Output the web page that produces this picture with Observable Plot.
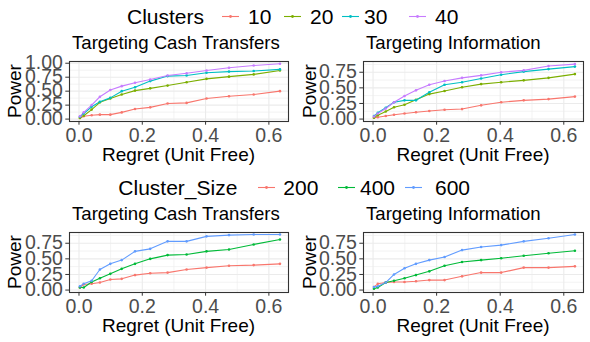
<!DOCTYPE html>
<html><head><meta charset="utf-8">
<script src="https://cdn.jsdelivr.net/npm/d3@7"></script>
<script src="https://cdn.jsdelivr.net/npm/@observablehq/plot@0.6"></script>
<style>
body{margin:0;background:#fff;font-family:"Liberation Sans",Arial,sans-serif;}
#root{position:relative;width:590px;height:342px;overflow:hidden;background:#fff;}
.abs{position:absolute;white-space:nowrap;line-height:1;color:#000;font-weight:normal;}
</style></head><body><div id="root"></div>
<script>
// ---- data ----
const regret = [0.003, 0.015, 0.04, 0.066, 0.099, 0.135, 0.177, 0.225, 0.28, 0.34, 0.403, 0.474, 0.552, 0.635];

const clusterLevels = ["10", "20", "30", "40"];
const clusterColors = ["#F8766D", "#7CAE00", "#00BFC4", "#C77CFF"];
const sizeLevels = ["200", "400", "600"];
const sizeColors = ["#F8766D", "#00BA38", "#619CFF"];

// Targeting Cash Transfers, by number of clusters
const cashC10 = [0.02, 0.05, 0.07, 0.08, 0.08, 0.12, 0.18, 0.21, 0.28, 0.29, 0.37, 0.41, 0.44, 0.50];
const cashC20 = [0.02, 0.06, 0.17, 0.30, 0.37, 0.44, 0.51, 0.55, 0.60, 0.66, 0.72, 0.76, 0.80, 0.87];
const cashC30 = [0.04, 0.10, 0.22, 0.31, 0.38, 0.50, 0.57, 0.68, 0.77, 0.78, 0.83, 0.85, 0.86, 0.89];
const cashC40 = [0.05, 0.12, 0.25, 0.40, 0.52, 0.59, 0.65, 0.71, 0.78, 0.82, 0.87, 0.92, 0.96, 0.99];
// Targeting Information, by number of clusters
const infoC10 = [0.02, 0.03, 0.05, 0.07, 0.09, 0.11, 0.13, 0.15, 0.16, 0.22, 0.27, 0.30, 0.32, 0.36];
const infoC20 = [0.02, 0.06, 0.12, 0.19, 0.23, 0.31, 0.40, 0.45, 0.51, 0.56, 0.59, 0.62, 0.66, 0.72];
const infoC30 = [0.05, 0.10, 0.18, 0.27, 0.30, 0.30, 0.43, 0.55, 0.59, 0.65, 0.71, 0.76, 0.80, 0.84];
const infoC40 = [0.04, 0.09, 0.17, 0.27, 0.37, 0.46, 0.55, 0.61, 0.66, 0.70, 0.75, 0.78, 0.85, 0.88];
// Targeting Cash Transfers, by cluster size
const cashS200 = [0.04, 0.09, 0.10, 0.12, 0.17, 0.18, 0.24, 0.27, 0.28, 0.33, 0.36, 0.39, 0.40, 0.42];
const cashS400 = [0.04, 0.04, 0.13, 0.19, 0.26, 0.34, 0.42, 0.50, 0.56, 0.57, 0.62, 0.65, 0.73, 0.81];
const cashS600 = [0.06, 0.10, 0.15, 0.33, 0.42, 0.48, 0.62, 0.66, 0.78, 0.78, 0.86, 0.88, 0.89, 0.89];
// Targeting Information, by cluster size
const infoS200 = [0.05, 0.10, 0.12, 0.13, 0.13, 0.14, 0.16, 0.16, 0.22, 0.28, 0.28, 0.36, 0.36, 0.38];
const infoS400 = [0.02, 0.04, 0.12, 0.15, 0.19, 0.24, 0.30, 0.39, 0.45, 0.48, 0.51, 0.55, 0.59, 0.63];
const infoS600 = [0.05, 0.06, 0.12, 0.25, 0.35, 0.42, 0.48, 0.53, 0.64, 0.69, 0.72, 0.78, 0.83, 0.89];

const xTicks = [0, 0.2, 0.4, 0.6];
const yTicksTall = [0, 0.25, 0.5, 0.75, 1];
const yTicksShort = [0, 0.25, 0.5, 0.75];

// ---- helpers ----
const root = document.getElementById("root");
const FONT = '"Liberation Sans", Arial, sans-serif';

function rows(levels, series) {
  return levels.flatMap((g, j) => series[j].map((y, i) => ({x: regret[i], y, g})));
}

function text(str, left, baseline, size, extra = {}) {
  const d = document.createElement("div");
  d.className = "abs";
  d.textContent = str;
  d.style.left = left + "px";
  d.style.top = (baseline - 0.8465 * size) + "px";
  d.style.fontSize = size + "px";
  Object.assign(d.style, extra);
  root.appendChild(d);
  return d;
}

function centered(str, cx, baseline, size) {
  const d = text(str, cx, baseline, size);
  d.style.transform = "translateX(-50%)";
  return d;
}

function rotated(str, cx, cy, size) {
  const d = document.createElement("div");
  d.className = "abs";
  d.textContent = str;
  d.style.fontSize = size + "px";
  d.style.left = cx + "px";
  d.style.top = cy + "px";
  d.style.transform = "translate(-50%,-50%) rotate(-90deg)";
  root.appendChild(d);
}

function legend(title, titleLeft, baseline, levels, colors, keyLefts, labelLefts) {
  text(title, titleLeft, baseline, 21);
  const cy = baseline - 7.5;
  levels.forEach((lv, i) => {
    const ns = "http://www.w3.org/2000/svg";
    const svg = document.createElementNS(ns, "svg");
    svg.setAttribute("width", 17); svg.setAttribute("height", 17);
    svg.style.position = "absolute";
    svg.style.left = keyLefts[i] + "px";
    svg.style.top = (cy - 8.5) + "px";
    const l = document.createElementNS(ns, "line");
    l.setAttribute("x1", 0); l.setAttribute("x2", 17);
    l.setAttribute("y1", 8.5); l.setAttribute("y2", 8.5);
    l.setAttribute("stroke", colors[i]); l.setAttribute("stroke-width", 1.1);
    const c = document.createElementNS(ns, "circle");
    c.setAttribute("cx", 8.5); c.setAttribute("cy", 8.5); c.setAttribute("r", 1.4);
    c.setAttribute("fill", colors[i]);
    svg.appendChild(l); svg.appendChild(c);
    root.appendChild(svg);
    text(lv, labelLefts[i], baseline, 21);
  });
}

function panel({data, levels, colors, yDomain, yTicks, left, top, marginLeft, title}) {
  const minorX = [0.1, 0.3, 0.5];
  const minorY = yTicks.map(t => t + 0.125).filter(t => t > yDomain[0] && t < yDomain[1]);
  const fmtY = d3.format(".2f");
  const chart = Plot.plot({
    width: 295,
    height: 90,
    marginTop: 1,
    marginBottom: 29,
    marginLeft,
    marginRight: 7,
    style: {fontFamily: FONT, fontSize: "19px", color: "#4D4D4D", background: "transparent", overflow: "visible"},
    x: {domain: [-0.03, 0.662]},
    y: {domain: yDomain},
    color: {domain: levels, range: colors},
    marks: [
      Plot.gridX(minorX, {stroke: "#EBEBEB", strokeOpacity: 1, strokeWidth: 0.6}),
      Plot.gridY(minorY, {stroke: "#EBEBEB", strokeOpacity: 1, strokeWidth: 0.6}),
      Plot.gridX(xTicks, {stroke: "#EBEBEB", strokeOpacity: 1, strokeWidth: 1.1}),
      Plot.gridY(yTicks, {stroke: "#EBEBEB", strokeOpacity: 1, strokeWidth: 1.1}),
      Plot.line(data, {x: "x", y: "y", z: "g", stroke: "g", strokeWidth: 1.1}),
      Plot.dot(data, {x: "x", y: "y", fill: "g", r: 1.3}),
      Plot.frame({stroke: "#333333", strokeWidth: 1.1}),
      Plot.axisX({ticks: xTicks, tickFormat: d3.format(".1f"), tickSize: 3.7, tickPadding: 2.9,
        stroke: "#333333", fill: "#4D4D4D", fontSize: 19.5, label: null}),
      Plot.axisY({ticks: yTicks, tickFormat: fmtY, tickSize: 3.7, tickPadding: 2.9,
        stroke: "#333333", fill: "#4D4D4D", fontSize: 19.5, label: null})
    ]
  });
  chart.style.position = "absolute";
  chart.style.left = left + "px";
  chart.style.top = (top - 1) + "px";
  root.appendChild(chart);
  const panelLeft = left + marginLeft;
  const panelCenter = left + marginLeft + (295 - marginLeft - 7) / 2;
  text(title, panelLeft + 3, top - 11, 18.6);
  centered("Regret (Unit Free)", panelCenter, top + 100, 19);
  rotated("Power", left + 13.6, top + 30, 19);
}

// ---- top block: clusters ----
legend("Clusters", 127, 24, clusterLevels, clusterColors, [222, 284, 342, 409], [248, 310, 364, 435]);
panel({data: rows(clusterLevels, [cashC10, cashC20, cashC30, cashC40]), levels: clusterLevels, colors: clusterColors,
  yDomain: [-0.043, 1.031], yTicks: yTicksTall, left: 0, top: 61, marginLeft: 69, title: "Targeting Cash Transfers"});
panel({data: rows(clusterLevels, [infoC10, infoC20, infoC30, infoC40]), levels: clusterLevels, colors: clusterColors,
  yDomain: [-0.039, 0.922], yTicks: yTicksShort, left: 295, top: 61, marginLeft: 68, title: "Targeting Information"});

// ---- bottom block: cluster size ----
legend("Cluster_Size", 118.3, 195, sizeLevels, sizeColors, [258, 338, 405], [283.3, 360, 435]);
panel({data: rows(sizeLevels, [cashS200, cashS400, cashS600]), levels: sizeLevels, colors: sizeColors,
  yDomain: [-0.039, 0.922], yTicks: yTicksShort, left: 0, top: 232, marginLeft: 69, title: "Targeting Cash Transfers"});
panel({data: rows(sizeLevels, [infoS200, infoS400, infoS600]), levels: sizeLevels, colors: sizeColors,
  yDomain: [-0.039, 0.922], yTicks: yTicksShort, left: 295, top: 232, marginLeft: 68, title: "Targeting Information"});
</script>
</body></html>
